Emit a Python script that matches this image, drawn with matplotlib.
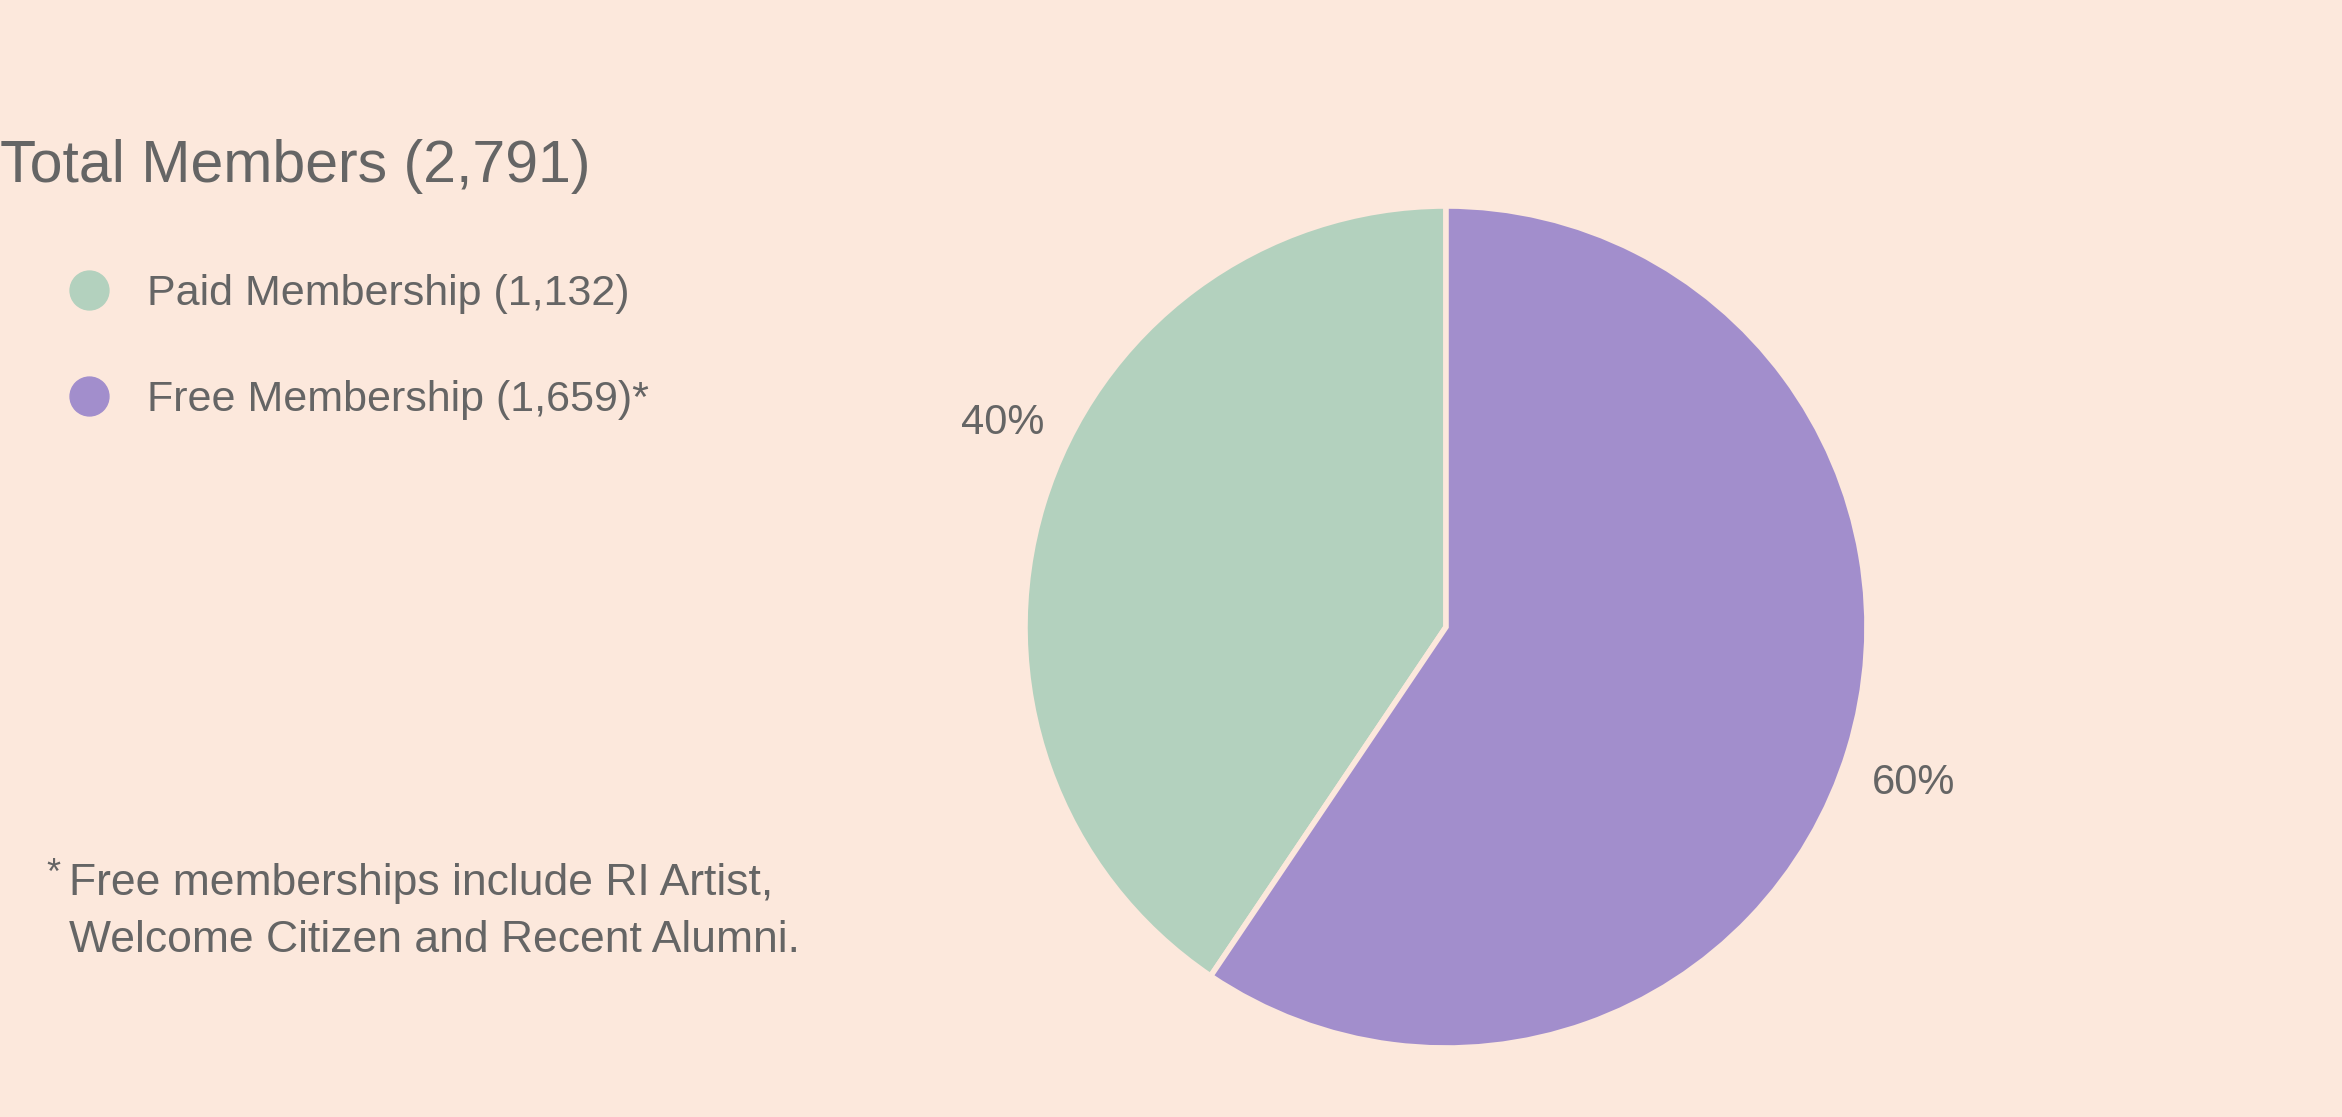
import matplotlib as mpl
import matplotlib.pyplot as plt
from matplotlib.lines import Line2D

# data
segments = ["Paid Membership", "Free Membership"]
members = [1132, 1659]
pct_labels = ["40%", "60%"]
legend_labels = ["Paid Membership (1,132)", "Free Membership (1,659)*"]
title = "Total Members (2,791)"
footnote = ["Free memberships include RI Artist,", "Welcome Citizen and Recent Alumni."]

bg = "#FCE8DC"
txt = "#656565"
colors = ["#B3D1BE", "#A28ECC"]

plt.rcParams['font.family'] = ['Liberation Sans', 'DejaVu Sans']

W, H = 2342, 1117
fig = plt.figure(figsize=(W / 100, H / 100), dpi=100, facecolor=bg)

# pie axes, centre (1446, 627) px, radius ~420 px
cx, cy, r = 1446, H - 627, 421
ax = fig.add_axes([(cx - r) / W, (cy - r) / H, 2 * r / W, 2 * r / H])
ax.set_facecolor(bg)
wedges, texts = ax.pie(members, colors=colors, startangle=90, counterclock=True,
                       labels=pct_labels, labeldistance=1.06,
                       wedgeprops=dict(edgecolor=bg, linewidth=4),
                       textprops=dict(fontsize=30, color=txt))
ax.set_xlim(-1, 1)
ax.set_ylim(-1, 1)
ax.set_aspect('equal')
ax.axis('off')
texts[0].set_position((-0.955, 0.485))
texts[0].set_va('center')
texts[1].set_position((1.012, -0.37))
texts[1].set_va('center')

# title
fig.text(0.0, 1 - 166 / H, title, fontsize=42.5, color=txt, va='center', ha='left')

# legend
handles = [Line2D([], [], marker='o', linestyle='', markersize=28, color=c) for c in colors]
fig.legend(handles, legend_labels, loc='upper left', bbox_to_anchor=(67 / W, 1 - 274 / H),
           frameon=False, fontsize=31, labelcolor=txt, handlelength=1.0,
           handletextpad=0.85, labelspacing=1.53, borderpad=0, borderaxespad=0)

# footnote
fig.text(46 / W, 1 - 874 / H, "*", fontsize=26, color=txt, va='center', ha='left')
for i, line in enumerate(footnote):
    fig.text(69 / W, 1 - (884 + 56 * i) / H, line, fontsize=32, color=txt, va='center', ha='left')

plt.savefig("out.png", dpi=100, facecolor=bg)
